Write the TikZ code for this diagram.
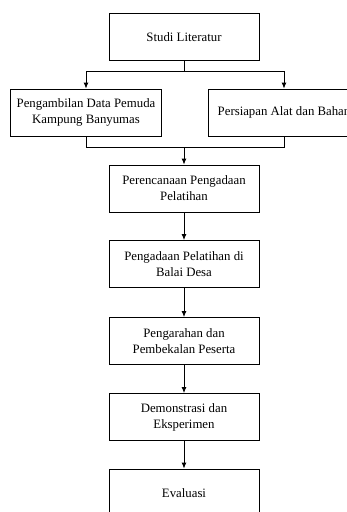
\documentclass[tikz,border=0pt]{standalone}
\usepackage{fontspec}
\setmainfont{Liberation Serif}
\usetikzlibrary{arrows.meta}
\begin{document}
\begin{tikzpicture}[x=1pt,y=1pt,
  box/.style={draw, line width=0.9pt, minimum width=150pt, minimum height=47pt, inner sep=0pt, align=center, font=\fontsize{12.8}{16}\selectfont},
  conn/.style={line width=0.9pt},
  arr/.style={line width=0.9pt, -{Latex[length=6pt,width=5pt]}}]
\useasboundingbox (0,0) rectangle (347,-512);
\clip (0,0) rectangle (347,-512);
\node[box] (studi) at (184,-37) {Studi Literatur};
\node[box, minimum width=151pt] (left) at (86,-112.5) {Pengambilan Data Pemuda\\Kampung Banyumas};
\node[box, minimum width=152pt] (right) at (284,-112.5) {Persiapan Alat dan Bahan};
\node[box] (p1) at (184,-188.5) {Perencanaan Pengadaan\\Pelatihan};
\node[box] (p2) at (184,-264) {Pengadaan Pelatihan di\\Balai Desa};
\node[box] (p3) at (184,-341) {Pengarahan dan\\Pembekalan Peserta};
\node[box] (p4) at (184,-417) {Demonstrasi dan\\Eksperimen};
\node[box, minimum height=48pt] (p5) at (184,-493) {Evaluasi};
\coordinate (b) at (184,-71);
\coordinate (m) at (184,-147);
\draw[conn] (studi.south) -- (b);
\draw[arr] (b) -| (left.north);
\draw[arr] (b) -| (right.north);
\draw[conn] (left.south) |- (m);
\draw[conn] (right.south) |- (m);
\draw[arr] (m) -- (p1.north);
\draw[arr] (p1) -- (p2);
\draw[arr] (p2) -- (p3);
\draw[arr] (p3) -- (p4);
\draw[arr] (p4) -- (p5);
\end{tikzpicture}
\end{document}
